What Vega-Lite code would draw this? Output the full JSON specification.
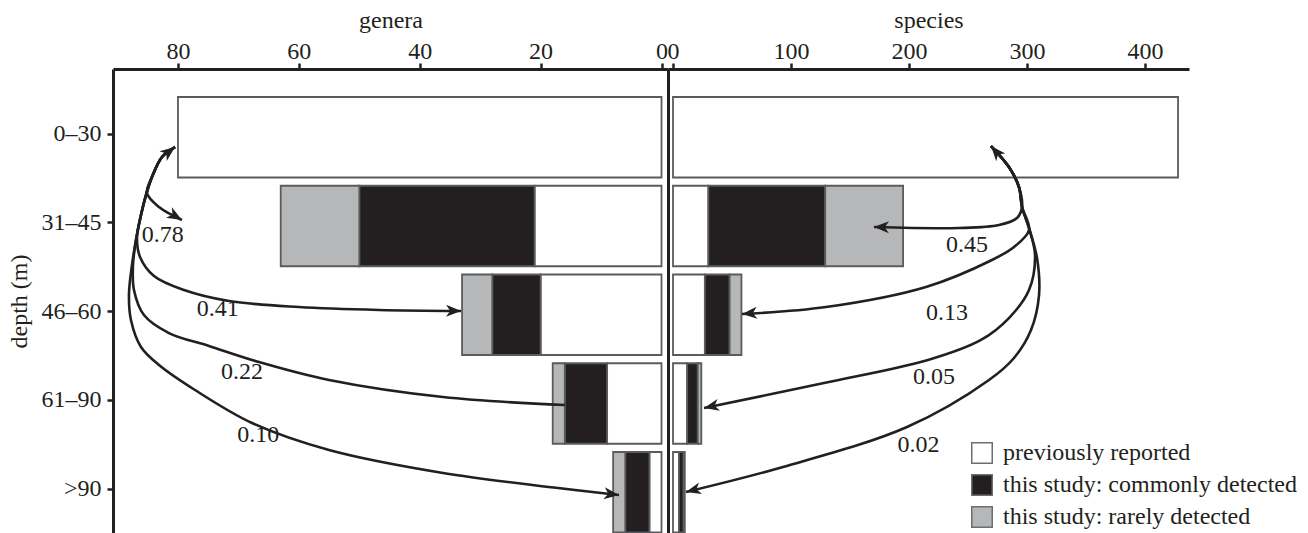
{
  "$schema": "https://vega.github.io/schema/vega-lite/v6.json",
  "padding": {"left": 7, "top": 8, "right": 0, "bottom": 0},
  "background": "white",
  "spacing": 0,
  "bounds": "flush",
  "datasets": {
    "bars": [
      {"panel": "genera", "depth": "0–30", "cat": "previously reported", "n": 80},
      {"panel": "genera", "depth": "31–45", "cat": "previously reported", "n": 21},
      {"panel": "genera", "depth": "31–45", "cat": "this study: commonly detected", "n": 29},
      {"panel": "genera", "depth": "31–45", "cat": "this study: rarely detected", "n": 13},
      {"panel": "genera", "depth": "46–60", "cat": "previously reported", "n": 20},
      {"panel": "genera", "depth": "46–60", "cat": "this study: commonly detected", "n": 8},
      {"panel": "genera", "depth": "46–60", "cat": "this study: rarely detected", "n": 5},
      {"panel": "genera", "depth": "61–90", "cat": "previously reported", "n": 9},
      {"panel": "genera", "depth": "61–90", "cat": "this study: commonly detected", "n": 7},
      {"panel": "genera", "depth": "61–90", "cat": "this study: rarely detected", "n": 2},
      {"panel": "genera", "depth": ">90", "cat": "previously reported", "n": 2},
      {"panel": "genera", "depth": ">90", "cat": "this study: commonly detected", "n": 4},
      {"panel": "genera", "depth": ">90", "cat": "this study: rarely detected", "n": 2},
      {"panel": "species", "depth": "0–30", "cat": "previously reported", "n": 428},
      {"panel": "species", "depth": "31–45", "cat": "previously reported", "n": 30},
      {"panel": "species", "depth": "31–45", "cat": "this study: commonly detected", "n": 99},
      {"panel": "species", "depth": "31–45", "cat": "this study: rarely detected", "n": 66},
      {"panel": "species", "depth": "46–60", "cat": "previously reported", "n": 27},
      {"panel": "species", "depth": "46–60", "cat": "this study: commonly detected", "n": 21},
      {"panel": "species", "depth": "46–60", "cat": "this study: rarely detected", "n": 10},
      {"panel": "species", "depth": "61–90", "cat": "previously reported", "n": 12},
      {"panel": "species", "depth": "61–90", "cat": "this study: commonly detected", "n": 9},
      {"panel": "species", "depth": "61–90", "cat": "this study: rarely detected", "n": 3},
      {"panel": "species", "depth": ">90", "cat": "previously reported", "n": 5},
      {"panel": "species", "depth": ">90", "cat": "this study: commonly detected", "n": 4},
      {"panel": "species", "depth": ">90", "cat": "this study: rarely detected", "n": 1}
    ],
    "arrows": [
      {"panel": "genera", "label": "0.78", "i": 0, "n": 80.49, "v": 0.110},
      {"panel": "genera", "label": "0.78", "i": 1, "n": 82.64, "v": 0.222},
      {"panel": "genera", "label": "0.78", "i": 2, "n": 84.30, "v": 0.448},
      {"panel": "genera", "label": "0.78", "i": 3, "n": 85.13, "v": 0.628},
      {"panel": "genera", "label": "0.78", "i": 4, "n": 83.14, "v": 0.786},
      {"panel": "genera", "label": "0.78", "i": 5, "n": 79.34, "v": 0.932},
      {"panel": "genera", "label": "0.41", "i": 0, "n": 80.49, "v": 0.110},
      {"panel": "genera", "label": "0.41", "i": 1, "n": 82.64, "v": 0.222},
      {"panel": "genera", "label": "0.41", "i": 2, "n": 84.30, "v": 0.448},
      {"panel": "genera", "label": "0.41", "i": 3, "n": 85.29, "v": 0.651},
      {"panel": "genera", "label": "0.41", "i": 4, "n": 86.12, "v": 0.876},
      {"panel": "genera", "label": "0.41", "i": 5, "n": 86.78, "v": 1.135},
      {"panel": "genera", "label": "0.41", "i": 6, "n": 86.28, "v": 1.349},
      {"panel": "genera", "label": "0.41", "i": 7, "n": 83.97, "v": 1.563},
      {"panel": "genera", "label": "0.41", "i": 8, "n": 79.00, "v": 1.721},
      {"panel": "genera", "label": "0.41", "i": 9, "n": 71.56, "v": 1.845},
      {"panel": "genera", "label": "0.41", "i": 10, "n": 59.98, "v": 1.913},
      {"panel": "genera", "label": "0.41", "i": 11, "n": 46.74, "v": 1.946},
      {"panel": "genera", "label": "0.41", "i": 12, "n": 33.17, "v": 1.958},
      {"panel": "genera", "label": "0.22", "i": 0, "n": 80.49, "v": 0.110},
      {"panel": "genera", "label": "0.22", "i": 1, "n": 82.64, "v": 0.222},
      {"panel": "genera", "label": "0.22", "i": 2, "n": 84.30, "v": 0.448},
      {"panel": "genera", "label": "0.22", "i": 3, "n": 85.29, "v": 0.651},
      {"panel": "genera", "label": "0.22", "i": 4, "n": 86.12, "v": 0.876},
      {"panel": "genera", "label": "0.22", "i": 5, "n": 86.95, "v": 1.158},
      {"panel": "genera", "label": "0.22", "i": 6, "n": 87.44, "v": 1.439},
      {"panel": "genera", "label": "0.22", "i": 7, "n": 87.28, "v": 1.721},
      {"panel": "genera", "label": "0.22", "i": 8, "n": 85.63, "v": 2.003},
      {"panel": "genera", "label": "0.22", "i": 9, "n": 81.49, "v": 2.206},
      {"panel": "genera", "label": "0.22", "i": 10, "n": 74.87, "v": 2.352},
      {"panel": "genera", "label": "0.22", "i": 11, "n": 66.60, "v": 2.533},
      {"panel": "genera", "label": "0.22", "i": 12, "n": 55.01, "v": 2.735},
      {"panel": "genera", "label": "0.22", "i": 13, "n": 36.15, "v": 2.927},
      {"panel": "genera", "label": "0.22", "i": 14, "n": 15.97, "v": 3.017},
      {"panel": "genera", "label": "0.10", "i": 0, "n": 80.49, "v": 0.110},
      {"panel": "genera", "label": "0.10", "i": 1, "n": 82.64, "v": 0.222},
      {"panel": "genera", "label": "0.10", "i": 2, "n": 84.30, "v": 0.448},
      {"panel": "genera", "label": "0.10", "i": 3, "n": 85.29, "v": 0.651},
      {"panel": "genera", "label": "0.10", "i": 4, "n": 86.12, "v": 0.876},
      {"panel": "genera", "label": "0.10", "i": 5, "n": 86.95, "v": 1.158},
      {"panel": "genera", "label": "0.10", "i": 6, "n": 87.61, "v": 1.439},
      {"panel": "genera", "label": "0.10", "i": 7, "n": 88.11, "v": 1.777},
      {"panel": "genera", "label": "0.10", "i": 8, "n": 87.78, "v": 2.059},
      {"panel": "genera", "label": "0.10", "i": 9, "n": 86.12, "v": 2.363},
      {"panel": "genera", "label": "0.10", "i": 10, "n": 83.14, "v": 2.566},
      {"panel": "genera", "label": "0.10", "i": 11, "n": 77.18, "v": 2.848},
      {"panel": "genera", "label": "0.10", "i": 12, "n": 67.75, "v": 3.220},
      {"panel": "genera", "label": "0.10", "i": 13, "n": 55.01, "v": 3.524},
      {"panel": "genera", "label": "0.10", "i": 14, "n": 36.15, "v": 3.783},
      {"panel": "genera", "label": "0.10", "i": 15, "n": 17.12, "v": 3.952},
      {"panel": "genera", "label": "0.10", "i": 16, "n": 7.03, "v": 4.031},
      {"panel": "species", "label": "0.45", "i": 0, "n": 269.5, "v": 0.099},
      {"panel": "species", "label": "0.45", "i": 1, "n": 284.7, "v": 0.335},
      {"panel": "species", "label": "0.45", "i": 2, "n": 293.2, "v": 0.561},
      {"panel": "species", "label": "0.45", "i": 3, "n": 295.8, "v": 0.786},
      {"panel": "species", "label": "0.45", "i": 4, "n": 291.5, "v": 0.910},
      {"panel": "species", "label": "0.45", "i": 5, "n": 276.3, "v": 0.989},
      {"panel": "species", "label": "0.45", "i": 6, "n": 242.4, "v": 1.023},
      {"panel": "species", "label": "0.45", "i": 7, "n": 170.3, "v": 1.012},
      {"panel": "species", "label": "0.13", "i": 0, "n": 269.5, "v": 0.099},
      {"panel": "species", "label": "0.13", "i": 1, "n": 284.7, "v": 0.335},
      {"panel": "species", "label": "0.13", "i": 2, "n": 293.2, "v": 0.561},
      {"panel": "species", "label": "0.13", "i": 3, "n": 295.8, "v": 0.786},
      {"panel": "species", "label": "0.13", "i": 4, "n": 301.7, "v": 1.045},
      {"panel": "species", "label": "0.13", "i": 5, "n": 289.0, "v": 1.236},
      {"panel": "species", "label": "0.13", "i": 6, "n": 270.3, "v": 1.383},
      {"panel": "species", "label": "0.13", "i": 7, "n": 214.4, "v": 1.687},
      {"panel": "species", "label": "0.13", "i": 8, "n": 129.7, "v": 1.913},
      {"panel": "species", "label": "0.13", "i": 9, "n": 58.5, "v": 1.992},
      {"panel": "species", "label": "0.05", "i": 0, "n": 269.5, "v": 0.099},
      {"panel": "species", "label": "0.05", "i": 1, "n": 284.7, "v": 0.335},
      {"panel": "species", "label": "0.05", "i": 2, "n": 293.2, "v": 0.561},
      {"panel": "species", "label": "0.05", "i": 3, "n": 295.8, "v": 0.786},
      {"panel": "species", "label": "0.05", "i": 4, "n": 301.7, "v": 1.022},
      {"panel": "species", "label": "0.05", "i": 5, "n": 306.8, "v": 1.327},
      {"panel": "species", "label": "0.05", "i": 6, "n": 301.7, "v": 1.721},
      {"panel": "species", "label": "0.05", "i": 7, "n": 284.7, "v": 2.037},
      {"panel": "species", "label": "0.05", "i": 8, "n": 261.0, "v": 2.284},
      {"panel": "species", "label": "0.05", "i": 9, "n": 216.1, "v": 2.510},
      {"panel": "species", "label": "0.05", "i": 10, "n": 128.0, "v": 2.769},
      {"panel": "species", "label": "0.05", "i": 11, "n": 26.3, "v": 3.051},
      {"panel": "species", "label": "0.02", "i": 0, "n": 269.5, "v": 0.099},
      {"panel": "species", "label": "0.02", "i": 1, "n": 284.7, "v": 0.335},
      {"panel": "species", "label": "0.02", "i": 2, "n": 293.2, "v": 0.561},
      {"panel": "species", "label": "0.02", "i": 3, "n": 295.8, "v": 0.786},
      {"panel": "species", "label": "0.02", "i": 4, "n": 301.7, "v": 1.022},
      {"panel": "species", "label": "0.02", "i": 5, "n": 308.5, "v": 1.361},
      {"panel": "species", "label": "0.02", "i": 6, "n": 310.2, "v": 1.778},
      {"panel": "species", "label": "0.02", "i": 7, "n": 303.4, "v": 2.172},
      {"panel": "species", "label": "0.02", "i": 8, "n": 289.0, "v": 2.487},
      {"panel": "species", "label": "0.02", "i": 9, "n": 267.8, "v": 2.735},
      {"panel": "species", "label": "0.02", "i": 10, "n": 198.3, "v": 3.265},
      {"panel": "species", "label": "0.02", "i": 11, "n": 93.2, "v": 3.715},
      {"panel": "species", "label": "0.02", "i": 12, "n": 11.0, "v": 3.997}
    ],
    "labels": [
      {"panel": "genera", "label": "0.78", "n": 82.5, "v": 1.101},
      {"panel": "genera", "label": "0.41", "n": 73.4, "v": 1.935},
      {"panel": "genera", "label": "0.22", "n": 69.4, "v": 2.645},
      {"panel": "genera", "label": "0.10", "n": 66.7, "v": 3.355},
      {"panel": "species", "label": "0.45", "n": 249.2, "v": 1.214},
      {"panel": "species", "label": "0.13", "n": 232.2, "v": 1.980},
      {"panel": "species", "label": "0.05", "n": 221.2, "v": 2.701},
      {"panel": "species", "label": "0.02", "n": 208.0, "v": 3.468}
    ]
  },
  "hconcat": [
    {
      "width": 555,
      "height": 464,
      "layer": [
        {
          "data": {"name": "bars"},
          "transform": [{"filter": "datum.panel == 'genera'"}],
          "mark": {"type": "bar", "stroke": "#5a5b5d", "strokeWidth": 1.8},
          "encoding": {
            "x": {"field": "n", "type": "quantitative", "stack": "zero",
              "scale": {"domain": [-1.075, 90.75], "reverse": true, "nice": false, "zero": false},
              "axis": {"orient": "top", "values": [0, 20, 40, 60, 80], "title": "genera", "titlePadding": 7, "labelFlush": false, "labelOverlap": false, "labelBaseline": "alphabetic", "labelPadding": 5}},
            "y": {"field": "depth", "type": "nominal",
              "scale": {"domain": ["0–30", "31–45", "46–60", "61–90", ">90"], "paddingInner": 0.093, "paddingOuter": 0.1605, "align": 0.982},
              "axis": {"title": "depth (m)", "titlePadding": 10, "tickOffset": -3.5, "labelPadding": 6}},
            "color": {"field": "cat", "type": "nominal",
              "scale": {"domain": ["previously reported", "this study: commonly detected", "this study: rarely detected"], "range": ["#ffffff", "#231f20", "#b6b7b9"]},
              "legend": {"title": null, "orient": "none", "legendX": 857, "legendY": 372, "symbolType": "square", "symbolSize": 420, "symbolStrokeColor": "#6d6e71", "symbolStrokeWidth": 1.5, "labelFont": "Liberation Serif", "labelFontSize": 24, "labelColor": "#231f20", "labelOffset": 9, "rowPadding": 4, "padding": 0, "labelLimit": 400}}
          }
        },
        {
          "encoding": {
            "x": {"field": "n", "type": "quantitative"},
            "y": {"field": "v", "type": "quantitative", "scale": {"domain": [-0.769, 4.459], "reverse": true, "nice": false, "zero": false}, "axis": null}
          },
          "layer": [
            {
              "data": {"name": "arrows"},
              "transform": [{"filter": "datum.panel == 'genera'"}],
              "mark": {"type": "line", "interpolate": "catmull-rom", "stroke": "#231f20", "strokeWidth": 2.6},
              "encoding": {"detail": {"field": "label"}, "order": {"field": "i", "type": "quantitative"}}
            },
            {
              "data": {"name": "arrows"},
              "transform": [
                {"filter": "datum.panel == 'genera'"},
                {"window": [{"op": "lag", "field": "n", "as": "np"}, {"op": "lag", "field": "v", "as": "vp"}, {"op": "lead", "field": "n", "as": "nn"}, {"op": "lead", "field": "v", "as": "vn"}], "groupby": ["label"], "sort": [{"field": "i", "order": "ascending"}]},
                {"filter": "(datum.nn == null && datum.label != '0.22') || (datum.np == null && datum.label == '0.78')"},
                {"calculate": "datum.nn == null ? atan2((datum.v - datum.vp) * 88.75, (datum.np - datum.n) * 6.044) * 180 / PI : atan2((datum.v - datum.vn) * 88.75, (datum.nn - datum.n) * 6.044) * 180 / PI", "as": "angle"}
              ],
              "mark": {"type": "point", "shape": "M0,0L-1,-0.4L-0.72,0L-1,0.4Z", "filled": true, "size": 900, "color": "#231f20", "opacity": 1, "strokeWidth": 0},
              "encoding": {"angle": {"field": "angle", "type": "quantitative", "scale": null}}
            },
            {
              "data": {"name": "labels"},
              "transform": [{"filter": "datum.panel == 'genera'"}],
              "mark": {"type": "text", "font": "Liberation Serif", "fontSize": 24, "color": "#231f20", "align": "center", "baseline": "middle"},
              "encoding": {"text": {"field": "label"}}
            }
          ]
        }
      ],
      "resolve": {"scale": {"y": "independent"}}
    },
    {
      "width": 521,
      "height": 464,
      "layer": [
        {
          "data": {"name": "bars"},
          "transform": [{"filter": "datum.panel == 'species'"}],
          "mark": {"type": "bar", "stroke": "#5a5b5d", "strokeWidth": 1.8},
          "encoding": {
            "x": {"field": "n", "type": "quantitative", "stack": "zero",
              "scale": {"domain": [-4.24, 437.3], "nice": false, "zero": false},
              "axis": {"orient": "top", "values": [0, 100, 200, 300, 400], "title": "species", "titlePadding": 7, "labelFlush": false, "labelOverlap": false, "labelBaseline": "alphabetic", "labelPadding": 5}},
            "y": {"field": "depth", "type": "nominal",
              "scale": {"domain": ["0–30", "31–45", "46–60", "61–90", ">90"], "paddingInner": 0.093, "paddingOuter": 0.1605, "align": 0.982},
              "axis": {"title": null, "labels": false, "ticks": false, "domain": true}},
            "color": {"field": "cat", "type": "nominal",
              "scale": {"domain": ["previously reported", "this study: commonly detected", "this study: rarely detected"], "range": ["#ffffff", "#231f20", "#b6b7b9"]},
              "legend": {"title": null, "orient": "none", "legendX": 857, "legendY": 372, "symbolType": "square", "symbolSize": 420, "symbolStrokeColor": "#6d6e71", "symbolStrokeWidth": 1.5, "labelFont": "Liberation Serif", "labelFontSize": 24, "labelColor": "#231f20", "labelOffset": 9, "rowPadding": 4, "padding": 0, "labelLimit": 400}}
          }
        },
        {
          "encoding": {
            "x": {"field": "n", "type": "quantitative"},
            "y": {"field": "v", "type": "quantitative", "scale": {"domain": [-0.769, 4.459], "reverse": true, "nice": false, "zero": false}, "axis": null}
          },
          "layer": [
            {
              "data": {"name": "arrows"},
              "transform": [{"filter": "datum.panel == 'species'"}],
              "mark": {"type": "line", "interpolate": "catmull-rom", "stroke": "#231f20", "strokeWidth": 2.6},
              "encoding": {"detail": {"field": "label"}, "order": {"field": "i", "type": "quantitative"}}
            },
            {
              "data": {"name": "arrows"},
              "transform": [
                {"filter": "datum.panel == 'species'"},
                {"window": [{"op": "lag", "field": "n", "as": "np"}, {"op": "lag", "field": "v", "as": "vp"}, {"op": "lead", "field": "n", "as": "nn"}, {"op": "lead", "field": "v", "as": "vn"}], "groupby": ["label"], "sort": [{"field": "i", "order": "ascending"}]},
                {"filter": "datum.nn == null || (datum.np == null && datum.label == '0.45')"},
                {"calculate": "datum.nn == null ? atan2((datum.v - datum.vp) * 88.75, (datum.n - datum.np) * 1.18) * 180 / PI : atan2((datum.v - datum.vn) * 88.75, (datum.n - datum.nn) * 1.18) * 180 / PI", "as": "angle"}
              ],
              "mark": {"type": "point", "shape": "M0,0L-1,-0.4L-0.72,0L-1,0.4Z", "filled": true, "size": 900, "color": "#231f20", "opacity": 1, "strokeWidth": 0},
              "encoding": {"angle": {"field": "angle", "type": "quantitative", "scale": null}}
            },
            {
              "data": {"name": "labels"},
              "transform": [{"filter": "datum.panel == 'species'"}],
              "mark": {"type": "text", "font": "Liberation Serif", "fontSize": 24, "color": "#231f20", "align": "center", "baseline": "middle"},
              "encoding": {"text": {"field": "label"}}
            }
          ]
        }
      ],
      "resolve": {"scale": {"y": "independent"}}
    }
  ],
  "config": {
    "view": {"stroke": null},
    "font": "Liberation Serif",
    "axis": {"domainColor": "#231f20", "domainWidth": 3, "tickColor": "#231f20", "tickWidth": 2.5, "tickSize": 6, "labelFont": "Liberation Serif", "labelFontSize": 24, "labelColor": "#231f20", "titleFont": "Liberation Serif", "titleFontSize": 24, "titleFontWeight": "normal", "titleColor": "#231f20", "grid": false}
  }
}
